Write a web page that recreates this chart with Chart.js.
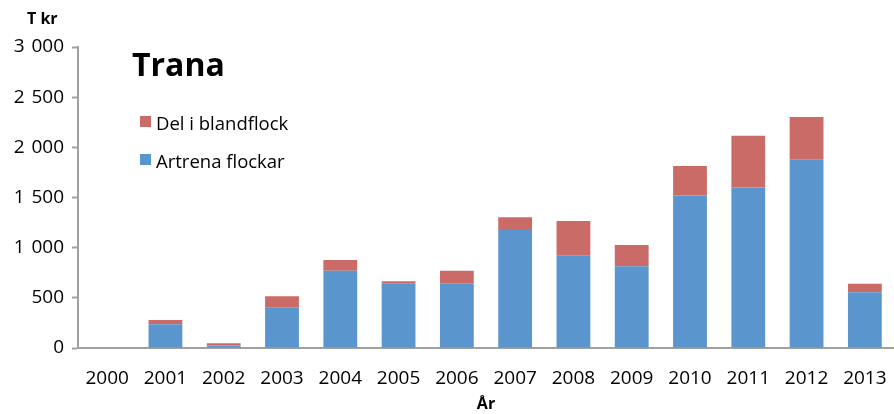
<!DOCTYPE html>
<html>
<head>
<meta charset="utf-8">
<script src="https://cdn.jsdelivr.net/npm/chart.js@4.4.1/dist/chart.umd.min.js"></script>
<style>
  html, body { margin: 0; padding: 0; background: #fff; }
  #wrap { width: 894px; height: 414px; position: relative; }
</style>
</head>
<body>
<div id="wrap"><canvas id="chart"></canvas></div>
<script>
    'use strict';

    var years = ['2000', '2001', '2002', '2003', '2004', '2005', '2006',
        '2007', '2008', '2009', '2010', '2011', '2012', '2013'];
    var artrena = [0, 236, 25, 405, 770, 645, 645, 1175, 925, 815, 1520, 1600, 1880, 555];
    var blandflock = [0, 43, 22, 110, 107, 20, 125, 128, 340, 212, 295, 515, 423, 86];
    var yTicks = [0, 500, 1000, 1500, 2000, 2500, 3000];

    var blue = '#5b95cd',
        red = '#cb6b67',
        axisGrey = '#a0a0a0',
        fontFamily = '"Open Sans", "DejaVu Sans", sans-serif';

    function formatTick(value) {
        if (value < 1000) {
            return String(value);
        }
        var rest = String(value % 1000);
        while (rest.length < 3) {
            rest = '0' + rest;
        }
        return Math.floor(value / 1000) + ' \u200a' + rest;
    }

    // title, unit label and the in-plot legend
    var overlay = {
        id: 'overlay',
        afterDraw: function(chart) {
            var ctx = chart.ctx;
            ctx.save();
            ctx.fillStyle = '#000';
            ctx.textAlign = 'left';
            ctx.textBaseline = 'alphabetic';

            ctx.font = 'bold 16px ' + fontFamily;
            ctx.fillText('T kr', 27, 24);

            ctx.font = 'bold 32px ' + fontFamily;
            ctx.fillText('Trana', 132, 76);

            var items = [chart.data.datasets[1], chart.data.datasets[0]];
            ctx.font = '18.5px ' + fontFamily;
            items.forEach(function(ds, i) {
                var y = 116 + i * 38;
                ctx.fillStyle = ds.backgroundColor;
                ctx.fillRect(140, y, 11, 11);
                ctx.fillStyle = '#000';
                ctx.fillText(ds.label, 156, y + 14);
            });
            ctx.restore();
        }
    };

    var ctx = document.getElementById('chart').getContext('2d');
    var chart = new Chart(ctx, {
        type: 'bar',
        data: {
            labels: years,
            datasets: [{
                label: 'Artrena flockar',
                data: artrena,
                backgroundColor: blue,
                categoryPercentage: 1,
                barPercentage: 0.58
            }, {
                label: 'Del i blandflock',
                data: blandflock,
                backgroundColor: red,
                categoryPercentage: 1,
                barPercentage: 0.58
            }]
        },
        options: {
            responsive: true,
            maintainAspectRatio: false,
            animation: false,
            layout: {
                padding: { top: 47, left: 0, right: 0, bottom: 0 }
            },
            plugins: {
                legend: { display: false },
                tooltip: { enabled: false }
            },
            scales: {
                x: {
                    stacked: true,
                    grid: {
                        drawOnChartArea: false,
                        drawTicks: false,
                        color: 'rgba(0,0,0,0)'
                    },
                    border: { display: true, color: axisGrey, width: 2 },
                    ticks: {
                        color: '#000',
                        padding: 19,
                        maxRotation: 0,
                        autoSkip: false,
                        font: { family: fontFamily, size: 19 }
                    },
                    title: {
                        display: true,
                        text: 'År',
                        color: '#000',
                        padding: { top: 0, bottom: 0 },
                        font: { family: fontFamily, size: 16, weight: 'bold' }
                    },
                    afterFit: function(scale) {
                        scale.height = 66;
                        scale.paddingLeft = 0;
                        scale.paddingRight = 0;
                    }
                },
                y: {
                    stacked: true,
                    min: 0,
                    max: 3000,
                    afterBuildTicks: function(scale) {
                        scale.ticks = yTicks.map(function(v) {
                            return { value: v };
                        });
                    },
                    grid: {
                        drawOnChartArea: false,
                        drawTicks: true,
                        tickLength: 6,
                        tickWidth: 2,
                        color: axisGrey
                    },
                    border: { display: true, color: axisGrey, width: 2 },
                    ticks: {
                        color: '#000',
                        padding: 8,
                        font: { family: fontFamily, size: 19 },
                        callback: function(value) {
                            return formatTick(value);
                        }
                    },
                    afterFit: function(scale) {
                        scale.width = 78;
                    }
                }
            }
        },
        plugins: [overlay]
    });
</script>
</body>
</html>
